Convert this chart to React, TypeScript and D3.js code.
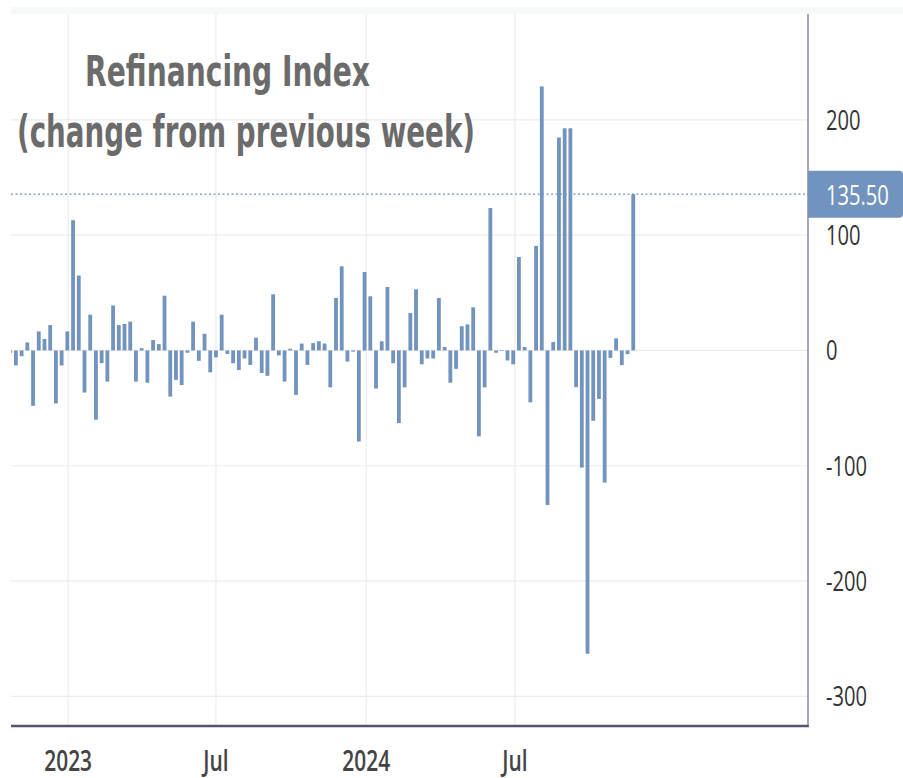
import React, { useEffect, useRef } from 'react';
import * as d3 from 'd3';

// weekly refinancing index change, first week ending 2022-10-22
const firstWeek = new Date(2022, 9, 22);
const weeklyChange = [
  -2, -13, -5, 7, -48, 16.5, 10, 22, -46, -13,
  16.5, 113, 65, -36.5, 31, -60, -11, -27, 39, 22,
  23, 25, -27, 2, -28, 9, 5.5, 47.5, -40, -25.5,
  -30, -2, 25, -9, 14.5, -19, -6, 31, -3, -11,
  -17, -7, -12.5, 11, -19.5, -22, 48.7, -4.3, -27, 1.5,
  -38.5, 6, -12.5, 6.4, 8, 6, -32, 45.5, 73, -9.6,
  -1, -79, 68, 47, -33, 8, 55, -11, -63, -32,
  32.5, 53, -12, -7, -7, 45.5, 3, -28, -16, 21,
  22.6, 37.4, -74.5, -32, 123.5, -2, -0.5, -8.7, -12, 81,
  3, -45, 90.7, 229, -134, 7.3, 184.7, 192.7, 192.7, -31.8,
  -101.6, -263, -61, -42, -114.6, -6.4, 10.5, -12.7, -3.2, 135.5,
];
const lastValue = 135.5;

const yTicks = [200, 100, 0, -100, -200, -300];
const xTicks = [new Date(2023, 0, 1), new Date(2023, 6, 1), new Date(2024, 0, 1), new Date(2024, 6, 1)];
const xTickLabels = ['2023', 'Jul', '2024', 'Jul'];
const titleLines = ['Refinancing Index', '(change from previous week)'];

const W = 903;
const H = 778;

const App = () => {
  const svgRef = useRef<SVGSVGElement>(null);

  useEffect(() => {
    const svg = d3.select(svgRef.current);
    svg.selectAll('*').remove();

    const left = 11;
    const right = 808;
    const top = 14;
    const bottom = 726;
    const sx = 0.72; // labels are narrow

    const data = weeklyChange.map((v, i) => ({ date: d3.timeWeek.offset(firstWeek, i), value: v }));

    const x = d3.scaleTime()
      .domain([new Date(2022, 9, 23), new Date(2025, 5, 25)])
      .range([left, right]);
    const y = d3.scaleLinear()
      .domain([-325.7, 291.8])
      .range([bottom, top]);

    svg.append('rect')
      .attr('x', left).attr('y', 7).attr('width', W - left).attr('height', 7)
      .attr('fill', '#f6f8fc');

    // grid
    svg.append('g').selectAll('line')
      .data(yTicks)
      .enter().append('line')
      .attr('x1', left).attr('x2', right)
      .attr('y1', d => y(d)).attr('y2', d => y(d))
      .attr('stroke', '#ececec').attr('stroke-width', 1.2);

    svg.append('g').selectAll('line')
      .data(xTicks)
      .enter().append('line')
      .attr('x1', d => x(d)).attr('x2', d => x(d))
      .attr('y1', top).attr('y2', bottom)
      .attr('stroke', '#ececec').attr('stroke-width', 1.2);

    // bars
    svg.append('clipPath').attr('id', 'plot-clip')
      .append('rect').attr('x', left).attr('y', top).attr('width', right - left).attr('height', bottom - top);

    const bw = 3.8;
    svg.append('g')
      .attr('clip-path', 'url(#plot-clip)')
      .selectAll('rect')
      .data(data)
      .enter().append('rect')
      .attr('x', d => x(d.date) - bw / 2)
      .attr('y', d => y(Math.max(0, d.value)))
      .attr('width', bw)
      .attr('height', d => Math.abs(y(d.value) - y(0)))
      .attr('fill', '#7193be');

    // last value line
    svg.append('line')
      .attr('x1', left).attr('x2', right)
      .attr('y1', y(lastValue)).attr('y2', y(lastValue))
      .attr('stroke', '#7193be').attr('stroke-width', 1.3)
      .attr('stroke-dasharray', '2,2.5');

    // axes lines
    svg.append('line')
      .attr('x1', right).attr('x2', right).attr('y1', top).attr('y2', bottom + 1)
      .attr('stroke', '#8b8b9b').attr('stroke-width', 1.5);
    svg.append('line')
      .attr('x1', left).attr('x2', right + 0.75).attr('y1', bottom).attr('y2', bottom)
      .attr('stroke', '#545470').attr('stroke-width', 2.5);

    const font = '"Open Sans", Roboto, sans-serif';

    // y labels
    yTicks.forEach(t => {
      svg.append('g')
        .attr('transform', `translate(826, ${y(t) + 10}) scale(${sx}, 1)`)
        .append('text')
        .text(d3.format('d')(t).replace('−', '-'))
        .attr('font-family', font)
        .attr('font-size', 28)
        .attr('fill', '#333');
    });

    // x labels
    xTicks.forEach((t, i) => {
      svg.append('g')
        .attr('transform', `translate(${x(t)}, 771) scale(${sx}, 1)`)
        .append('text')
        .text(xTickLabels[i])
        .attr('text-anchor', 'middle')
        .attr('font-family', font)
        .attr('font-weight', 600)
        .attr('font-size', 29)
        .attr('fill', '#444');
    });

    // last value badge
    const by = y(lastValue);
    svg.append('path')
      .attr('d', `M${right},${by - 23.5} H${W - 4} Q${W},${by - 23.5} ${W},${by - 19.5} V${by + 19.5} Q${W},${by + 23.5} ${W - 4},${by + 23.5} H${right} Z`)
      .attr('fill', '#7193be');
    svg.append('g')
      .attr('transform', `translate(826, ${by + 10.5}) scale(${sx}, 1)`)
      .append('text')
      .text(d3.format('.2f')(lastValue))
      .attr('font-family', font)
      .attr('font-size', 28)
      .attr('fill', '#fff');

    // title
    const titleSpec = [
      { x: 85, y: 86, len: 285, size: 43 },
      { x: 17, y: 147, len: 458, size: 45 },
    ];
    titleLines.forEach((line, i) => {
      svg.append('text')
        .attr('x', titleSpec[i].x)
        .attr('y', titleSpec[i].y)
        .attr('textLength', titleSpec[i].len)
        .attr('lengthAdjust', 'spacingAndGlyphs')
        .attr('font-family', '"DejaVu Sans", Verdana, sans-serif')
        .attr('font-weight', 'bold')
        .attr('font-size', titleSpec[i].size)
        .attr('fill', '#6b6b6b')
        .text(line);
    });
  }, []);

  return (
    <svg
      ref={svgRef}
      width={W}
      height={H}
      style={{ position: 'absolute', left: 0, top: 0, background: '#fff' }}
    />
  );
};

export default App;
